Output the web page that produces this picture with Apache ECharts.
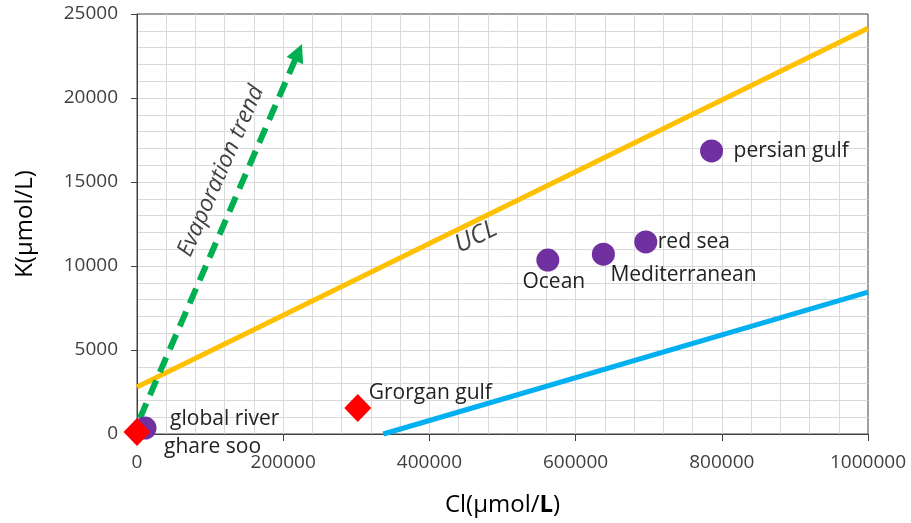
<!DOCTYPE html>
<html><head><meta charset="utf-8">
<script src="https://cdn.jsdelivr.net/npm/echarts@6/dist/echarts.min.js"></script>
<style>html,body{margin:0;padding:0;background:#fff}#c{width:911px;height:523px}</style>
</head><body><div id="c"></div>
<script>
// ---- data ----
const seaNames = ['global river', 'Ocean', 'Mediterranean', 'red sea', 'persian gulf'];
const seaCl = [11000, 562000, 638000, 696000, 786000];
const seaK = [350, 10350, 10700, 11430, 16850];
const gulfNames = ['ghare soo', 'Grorgan gulf'];
const gulfCl = [0, 302000];
const gulfK = [120, 1550];
const uclCl = [0, 1000000];
const uclK = [2800, 24150];
const lowerCl = [337000, 1000000];
const lowerK = [0, 8450];
const trendCl = [4100, 220800];
const trendK = [950, 22720];
const noteText = ['Evaporation trend', 'UCL'];
const noteCl = [114900, 463700];
const noteK = [15650, 11730];

// ---- styles ----
const FONT = "'Open Sans', sans-serif";
const labelStyle = {
  'global river': { align: 'left', offset: [25, -9] },
  'Ocean': { align: 'center', offset: [6, 22] },
  'Mediterranean': { align: 'left', offset: [7, 21] },
  'red sea': { align: 'left', offset: [12, 0] },
  'persian gulf': { align: 'left', offset: [22, 0] },
  'ghare soo': { align: 'left', offset: [27, 15] },
  'Grorgan gulf': { align: 'left', offset: [11, -15] }
};
const noteStyle = {
  'Evaporation trend': { rotate: 66.5, fontSize: 23 },
  'UCL': { rotate: 26, fontSize: 25 }
};

function pointItems(names, xs, ys) {
  return names.map((n, i) => ({
    name: n,
    value: [xs[i], ys[i]],
    label: Object.assign({ show: true, formatter: n, position: 'inside', verticalAlign: 'middle' }, labelStyle[n])
  }));
}
function pairs(xs, ys) { return xs.map((x, i) => [x, ys[i]]); }

const chart = echarts.init(document.getElementById('c'), null, { renderer: 'canvas' });
const axisColor = '#404040';
const gridColor = '#d9d9d9';
const plain = v => String(v);

chart.setOption({
  animation: false,
  textStyle: { fontFamily: FONT },
  grid: { left: 137, right: 43, top: 14, bottom: 89, show: true, borderColor: axisColor, borderWidth: 1, backgroundColor: 'transparent' },
  xAxis: {
    type: 'value', min: 0, max: 1000000, interval: 200000,
    name: '{a|Cl(μmol/}{b|L}{a|)}', nameLocation: 'middle', nameGap: 59,
    nameTextStyle: { rich: { a: { fontFamily: FONT, fontSize: 24, color: '#000' }, b: { fontFamily: FONT, fontSize: 24, fontWeight: 'bold', color: '#000' } } },
    axisLine: { show: true, lineStyle: { color: axisColor, width: 1 } },
    axisTick: { show: true, inside: false, length: 7, lineStyle: { color: axisColor } },
    axisLabel: { fontFamily: FONT, fontSize: 19, color: '#404040', margin: 19, formatter: plain },
    splitLine: { show: true, showMinLine: false, showMaxLine: false, lineStyle: { color: gridColor, width: 1 } },
    minorTick: { show: false, splitNumber: 5 },
    minorSplitLine: { show: true, lineStyle: { color: gridColor, width: 1 } }
  },
  yAxis: {
    type: 'value', min: 0, max: 25000, interval: 5000,
    name: 'K(μmol/L)', nameLocation: 'middle', nameGap: 100, nameRotate: 90,
    nameTextStyle: { fontFamily: FONT, fontSize: 24, color: '#000' },
    axisLine: { show: true, lineStyle: { color: axisColor, width: 1 } },
    axisTick: { show: true, inside: false, length: 6, lineStyle: { color: axisColor } },
    axisLabel: { fontFamily: FONT, fontSize: 19, color: '#404040', margin: 19, formatter: plain },
    splitLine: { show: true, showMinLine: false, showMaxLine: false, lineStyle: { color: gridColor, width: 1 } },
    minorTick: { show: false, splitNumber: 5 },
    minorSplitLine: { show: true, lineStyle: { color: gridColor, width: 1 } }
  },
  series: [
    {
      name: 'UCL', type: 'line', data: pairs(uclCl, uclK), showSymbol: false, silent: true,
      lineStyle: { color: '#FFC000', width: 5 }, z: 2
    },
    {
      name: 'lower', type: 'line', data: pairs(lowerCl, lowerK), showSymbol: false, silent: true,
      lineStyle: { color: '#00B0F0', width: 5 }, z: 2
    },
    {
      name: 'trend', type: 'lines', coordinateSystem: 'cartesian2d', silent: true, z: 3,
      symbol: ['none', 'triangle'], symbolSize: 18,
      lineStyle: { color: '#00B050', width: 6, type: [16, 9], opacity: 1 },
      data: [{ coords: pairs(trendCl, trendK) }]
    },
    {
      name: 'notes', type: 'scatter', symbolSize: 0, silent: true, z: 4,
      data: noteText.map((t, i) => ({
        value: [noteCl[i], noteK[i]],
        label: Object.assign({ show: true, formatter: t, position: 'inside', align: 'center', verticalAlign: 'middle',
                 fontStyle: 'italic', fontFamily: FONT, color: '#111' }, noteStyle[t])
      }))
    },
    {
      name: 'waters', type: 'scatter', symbol: 'circle', symbolSize: 23, silent: true, z: 5,
      itemStyle: { color: '#7030A0', opacity: 1 },
      label: { fontFamily: FONT, fontSize: 21, color: '#222' },
      data: pointItems(seaNames, seaCl, seaK)
    },
    {
      name: 'gulfs', type: 'scatter', symbol: 'diamond', symbolSize: [27, 28], silent: true, z: 6,
      itemStyle: { color: '#FF0000', opacity: 1 },
      label: { fontFamily: FONT, fontSize: 21, color: '#222' },
      data: pointItems(gulfNames, gulfCl, gulfK)
    }
  ]
});
</script></body></html>
